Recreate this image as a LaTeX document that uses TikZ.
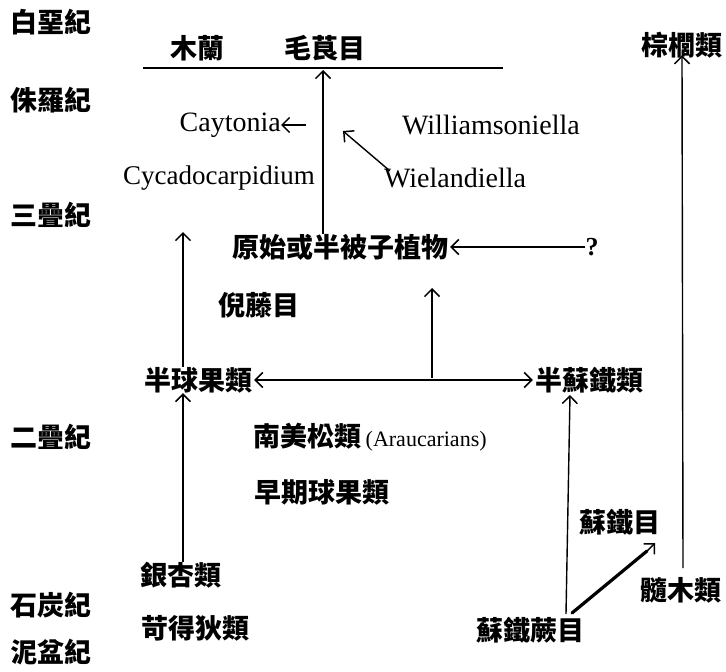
\documentclass[tikz,border=0pt]{standalone}
\usepackage{fontspec}
\setmainfont{Liberation Serif}
\newfontfamily\cjk{Noto Sans CJK TC}
\usetikzlibrary{arrows.meta}
\tikzset{barb/.tip={Straight Barb[length=7.5pt,width=15pt,line width=1.5pt]}}
\begin{document}
\begin{tikzpicture}[x=1pt,y=-1pt,
  zh/.style={font=\cjk\bfseries\fontsize{27}{27}\selectfont, inner sep=0pt},
  la/.style={font=\fontsize{28}{28}\selectfont, inner sep=0pt},
  arr/.style={line width=1.4pt, -{barb}},
  ln/.style={line width=1.4pt}]
\useasboundingbox (0,0) rectangle (726,672);
% periods
\node[zh] (p1) at (51,22) {白堊紀};
\node[zh] (p2) at (51,100) {侏羅紀};
\node[zh] (p3) at (51,215) {三疊紀};
\node[zh] (p4) at (51,437) {二疊紀};
\node[zh] (p5) at (51,605) {石炭紀};
\node[zh] (p6) at (51,652) {泥盆紀};
% taxa
\node[zh] (mulan) at (197,48) {木蘭};
\node[zh] (maogen) at (325,48) {毛茛目};
\node[zh] (zonglu) at (682,45) {棕櫚類};
\coordinate (barL) at (143,68);
\coordinate (barR) at (503,68);
\coordinate (barM) at (323,70);
\node[la, anchor=east] (cay) at (281,125) {Caytonia};
\coordinate (caytail) at (306,125);
\node[la] (wil) at (491,125) {Williamsoniella};
\node[la, font=\fontsize{27}{27}\selectfont] (cyc) at (219,178) {Cycadocarpidium};
\node[la] (wie) at (455,178) {Wielandiella};
\coordinate (wtip) at (343,131);
\node[zh] (yuan) at (340,247) {原始或半被子植物};
\node[font=\bfseries\fontsize{26}{26}\selectfont, inner sep=0pt] (q) at (592,247) {?};
\node[zh] (ni) at (259,305) {倪藤目};
\node[zh] (bqg) at (198,380) {半球果類};
\node[zh] (bst) at (589,380) {半蘇鐵類};
\node[zh, anchor=west] (nan) at (253,437) {南美松類\,{\rmfamily\mdseries\fontsize{22}{22}\selectfont(Araucarians)}};
\node[zh] (zao) at (322,492) {早期球果類};
\node[zh] (sut) at (620,522) {蘇鐵目};
\node[zh] (yx) at (181,575) {銀杏類};
\node[zh] (sui) at (681,590) {髓木類};
\node[zh] (kd) at (195,628) {苛得狄類};
\node[zh] (stj) at (530,630) {蘇鐵蕨目};
\coordinate (ltip) at (183,232);
\coordinate (mjoin) at (432,378);
\coordinate (mtip) at (432,288);
\coordinate (stjtop) at (566,614);
\coordinate (bsttip) at (570,395);
\coordinate (dstart) at (572,613);
\coordinate (dend) at (647,551);
\coordinate (dtip) at (655,543);
\coordinate (suitop) at (683,568);
% connectors
\draw[line width=2.8pt] (barL) -- (barR);
\draw[arr] (yuan.north -| barM) -- (barM);
\draw[arr] (caytail) -- (cay.east);
\draw[arr] ([xshift=6pt,yshift=-3pt]wie.north west) -- (wtip);
\draw[arr] (q.west) -- ([xshift=2pt]yuan.east);
\draw[arr] (yx.north -| ltip) -- (bqg.south -| ltip);
\draw[arr] (bqg.north -| ltip) -- (ltip);
\draw[ln, {barb}-{barb}] ([xshift=2pt]bqg.east) -- ([xshift=-2pt]bst.west);
\draw[arr] (mjoin) -- (mtip);
\draw[arr] (stjtop) -- (bsttip);
\draw[line width=3.2pt, line cap=round] (dstart) -- (dend);
\draw[arr] (dend) -- (dtip);
\draw[arr] (suitop) -- ([yshift=3pt]zonglu.south);
\end{tikzpicture}
\end{document}
